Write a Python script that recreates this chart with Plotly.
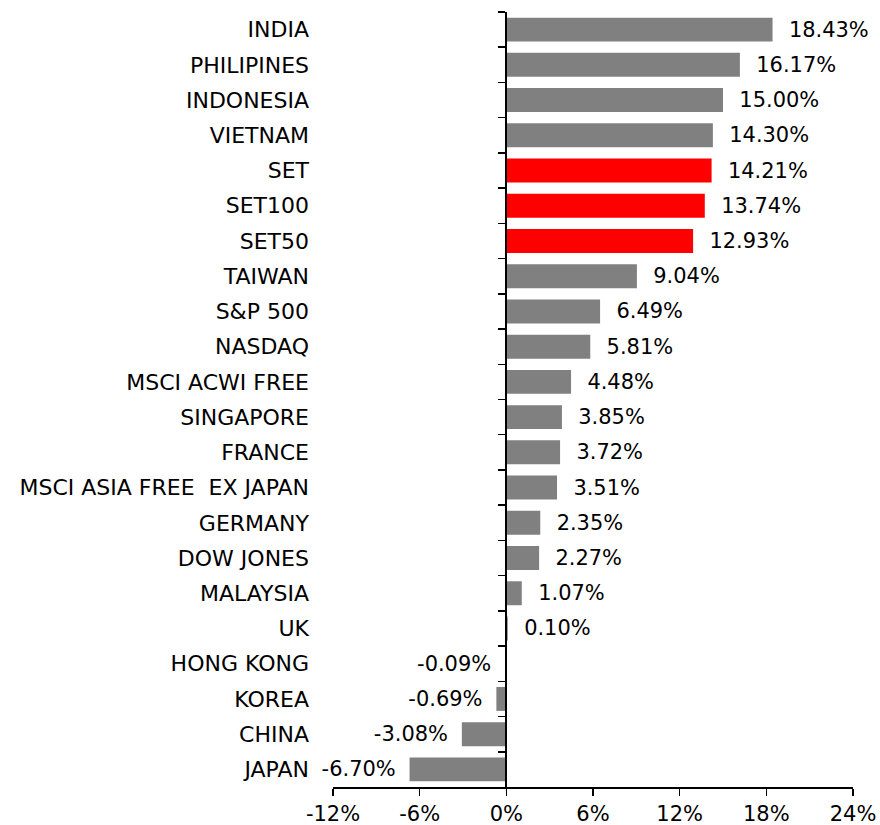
import plotly.graph_objects as go

categories = ["INDIA", "PHILIPINES", "INDONESIA", "VIETNAM", "SET", "SET100", "SET50",
              "TAIWAN", "S&P 500", "NASDAQ", "MSCI ACWI FREE", "SINGAPORE", "FRANCE",
              "MSCI ASIA FREE  EX JAPAN", "GERMANY", "DOW JONES", "MALAYSIA", "UK",
              "HONG KONG", "KOREA", "CHINA", "JAPAN"]
values = [18.43, 16.17, 15.00, 14.30, 14.21, 13.74, 12.93, 9.04, 6.49, 5.81, 4.48,
          3.85, 3.72, 3.51, 2.35, 2.27, 1.07, 0.10, -0.09, -0.69, -3.08, -6.70]
highlight = ["SET", "SET100", "SET50"]
x_ticks = [-12, -6, 0, 6, 12, 18, 24]

GRAY = "#808080"
RED = "#FF0000"
FONT = "DejaVu Sans"
NB = "\u00a0"

colors = [RED if c in highlight else GRAY for c in categories]
labels = [(NB * 2 + f"{v:.2f}%") if v >= 0 else (f"{v:.2f}%" + NB + "\u2009") for v in values]
n = len(categories)
cats = [c.replace("  ", NB + " ") for c in categories]

fig = go.Figure()
fig.add_trace(go.Bar(
    y=cats, x=values, orientation="h",
    marker=dict(color=colors, line=dict(width=0)),
    text=labels, textposition="outside", cliponaxis=False,
    textfont=dict(family=FONT, size=21, color="black"),
    hoverinfo="skip", yaxis="y",
))
fig.add_trace(go.Scatter(
    y=cats, x=[0] * n, mode="markers",
    marker=dict(opacity=0), hoverinfo="skip", yaxis="y2", showlegend=False,
))

fig.update_layout(
    width=880, height=825,
    margin=dict(l=333, r=27, t=12, b=38),
    paper_bgcolor="white", plot_bgcolor="white",
    showlegend=False, bargap=0.32,
    font=dict(family=FONT, size=21, color="black"),
    xaxis=dict(
        range=[-12, 24], tickvals=x_ticks, ticktext=[f"{t}%" for t in x_ticks],
        showline=True, linecolor="black", linewidth=1.5,
        ticks="outside", ticklen=7, tickwidth=1.5, tickcolor="black",
        showgrid=False, zeroline=False, domain=[0, 1], automargin=False,
        tickfont=dict(family=FONT, size=21, color="black"),
    ),
    yaxis=dict(
        type="category", categoryorder="array", categoryarray=cats,
        range=[n - 0.5, -0.5], showline=False, ticks="", showgrid=False,
        zeroline=False, ticklabelstandoff=23, automargin=False,
        tickfont=dict(family=FONT, size=22, color="black"),
    ),
    yaxis2=dict(
        type="category", categoryorder="array", categoryarray=cats,
        range=[n - 0.5, -0.5], overlaying="y", anchor="free", position=1 / 3,
        side="left", showline=True, linecolor="black", linewidth=2,
        ticks="outside", tickson="boundaries", ticklen=7, tickwidth=1.5,
        tickcolor="black", showticklabels=False, showgrid=False, zeroline=False,
        automargin=False,
    ),
)

fig.write_html(
    "out.html",
    config={"displayModeBar": False, "staticPlot": True},
    post_script="document.body.style.margin='0';document.body.style.overflow='hidden';",
)
